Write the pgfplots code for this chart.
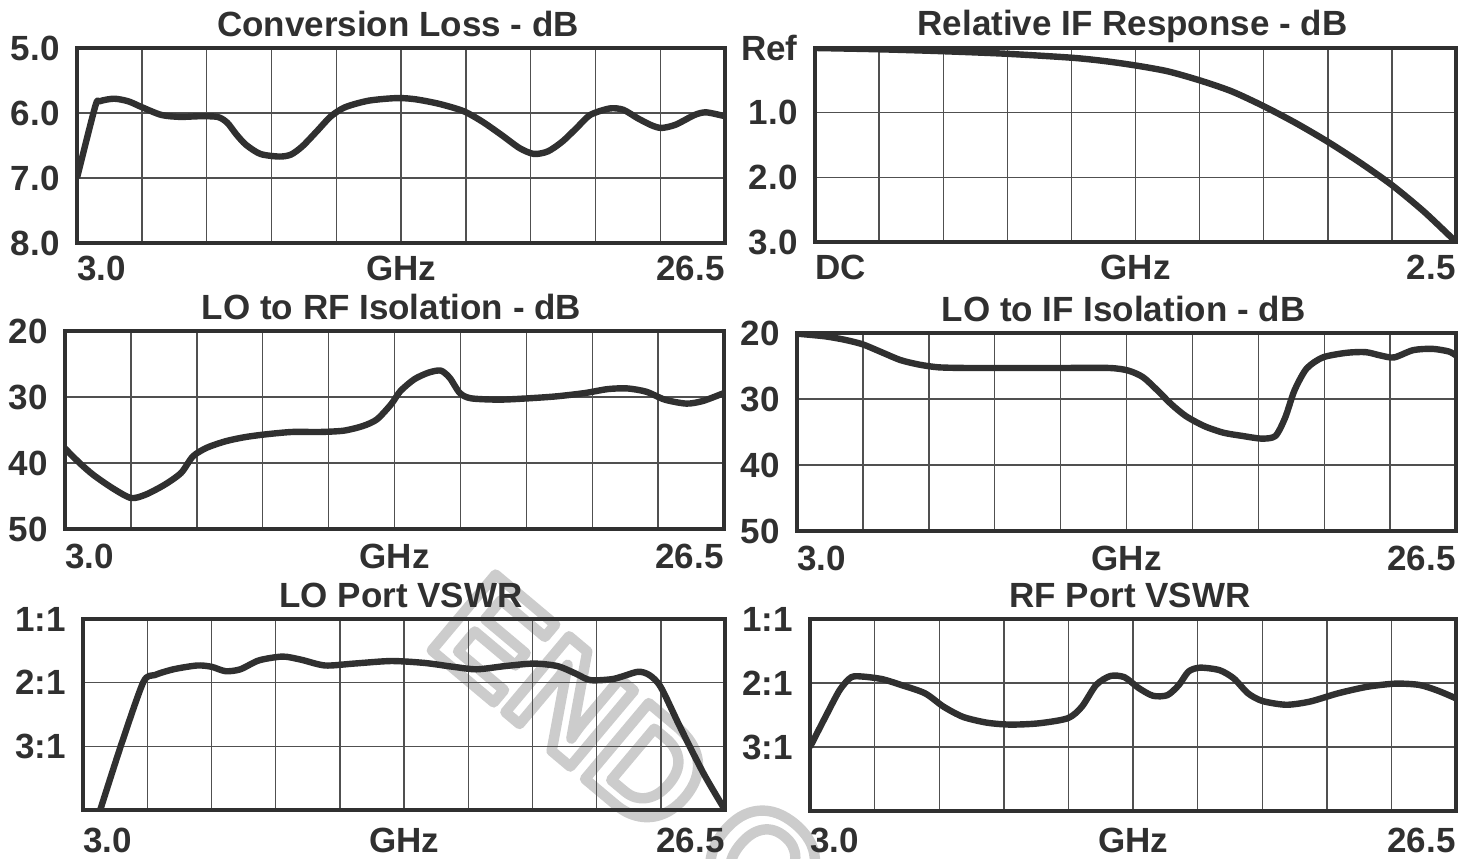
\documentclass[border=0pt]{standalone}
\usepackage{fontspec}
\setmainfont{Liberation Sans}
\usepackage{pgfplots}
\pgfplotsset{compat=1.18}
\definecolor{dk}{HTML}{303030}
\definecolor{gr}{HTML}{505050}
\definecolor{wm}{HTML}{C8C8C8}
\newcommand\lbl{\fontsize{17.5pt}{17.5pt}\selectfont\bfseries}
\newcommand\wmf{\fontsize{72pt}{72pt}\selectfont\bfseries}
\pgfplotsset{
 panel/.style={scale only axis, anchor=south west,
   axis line style={line width=1.7pt, draw=dk},
   grid=major, major grid style={line width=0.7pt, draw=gr},
   major tick length=0pt, xticklabels={}, y dir=reverse,
   yticklabel style={anchor=east, inner sep=0pt, xshift=-8.5pt, font=\lbl, text=dk},
   title style={font=\lbl, text=dk, at={(0.5,1)}, anchor=base, yshift=0pt, xshift=-1.5pt, inner sep=0pt},
   clip mode=individual},
 ghz/.style={xmin=3, xmax=26.5, xtick={3,5.35,7.7,10.05,12.4,14.75,17.1,19.45,21.8,24.15,26.5}},
 xlab/.style n args={4}{after end axis/.code={
   \node[anchor=base west, font=\lbl, text=dk, inner sep=0pt, yshift=-#4] at (axis description cs:0,0) {#1};
   \node[anchor=base, font=\lbl, text=dk, inner sep=0pt, yshift=-#4] at (axis description cs:0.5,0) {#2};
   \node[anchor=base east, font=\lbl, text=dk, inner sep=0pt, yshift=-#4] at (axis description cs:1,0) {#3};
 }},
 curve/.style={line width=3.2pt, draw=dk, smooth, tension=0.45, line join=round, mark=none},
}
\begin{document}
\begin{tikzpicture}
\useasboundingbox (0,0) rectangle (736pt,429pt);
\begin{scope}
\clip (0,0) rectangle (736pt,429pt);
\node[rotate=-40, anchor=west, inner sep=0pt, text=wm, font=\wmf] at (228pt,126pt)
  {\special{pdf:literal 1 Tr 0.80 G 5.2 w 1 j}END OF LIFE\special{pdf:literal 0 Tr}};
\end{scope}

% Panel 1: Conversion Loss
\begin{axis}[panel, ghz, at={(38.5pt,307.5pt)}, width=324pt, height=97.5pt,
  ymin=5, ymax=8, ytick={5,6,7,8}, yticklabels={5.0,6.0,7.0,8.0},
  title={Conversion Loss - dB}, xlab={3.0}{GHz}{26.5}{18.5pt}]
\addplot[curve] coordinates {
(3.00,7.00) (3.66,5.90) (3.82,5.82) (4.34,5.78) (4.86,5.82) (5.35,5.91)
(6.06,6.03) (6.74,6.06) (7.42,6.05) (8.10,6.06) (8.45,6.15) (8.78,6.33)
(9.13,6.49) (9.65,6.63) (10.33,6.67) (10.76,6.64) (11.18,6.51) (11.70,6.28)
(12.21,6.05) (12.73,5.91) (13.58,5.81) (14.61,5.77) (15.29,5.79) (16.14,5.86)
(17.01,5.97) (17.69,6.13) (18.37,6.33) (19.05,6.54) (19.57,6.63) (20.08,6.59)
(20.60,6.44) (21.12,6.23) (21.61,6.03) (22.32,5.93) (22.81,5.95) (23.33,6.08)
(23.84,6.19) (24.20,6.23) (24.71,6.18) (25.40,6.03) (25.82,5.99) (26.50,6.05)};
\end{axis}

% Panel 2: Relative IF Response
\begin{axis}[panel, at={(407.5pt,308pt)}, width=320.5pt, height=97pt,
  xmin=0, xmax=2.5, xtick={0,0.25,0.5,0.75,1,1.25,1.5,1.75,2,2.25,2.5},
  ymin=0, ymax=3, ytick={0,1,2,3}, yticklabels={Ref,1.0,2.0,3.0},
  title={Relative IF Response - dB}, xlab={DC}{GHz}{2.5}{18.5pt}]
\addplot[curve] coordinates {
(0.000,0.00) (0.250,0.02) (0.500,0.05) (0.750,0.09) (1.000,0.15) (1.125,0.20)
(1.250,0.27) (1.375,0.36) (1.500,0.50) (1.625,0.67) (1.750,0.90) (1.875,1.16)
(2.000,1.45) (2.125,1.77) (2.250,2.12) (2.375,2.53) (2.500,3.00)};
\end{axis}

% Panel 3: LO to RF Isolation
\begin{axis}[panel, ghz, at={(32.5pt,164.5pt)}, width=329.5pt, height=99pt,
  ymin=20, ymax=50, ytick={20,30,40,50}, yticklabels={20,30,40,50},
  title={LO to RF Isolation - dB}, xlab={3.0}{GHz}{26.5}{19.5pt}]
\addplot[curve] coordinates {
(3.00,37.8) (3.52,40.0) (4.01,41.8) (4.69,43.8) (5.35,45.3) (5.87,44.8)
(6.55,43.3) (7.14,41.5) (7.56,39.0) (8.05,37.7) (8.73,36.7) (9.39,36.1)
(10.07,35.7) (11.08,35.3) (12.09,35.3) (12.94,35.1) (13.62,34.4) (14.12,33.4)
(14.63,31.1) (14.96,29.1) (15.46,27.3) (15.97,26.3) (16.40,26.0) (16.72,27.1)
(17.08,29.4) (17.48,30.2) (18.49,30.4) (19.52,30.2) (20.53,29.9) (21.54,29.4)
(22.36,28.8) (23.05,28.7) (23.73,29.2) (24.39,30.4) (25.16,31.0) (25.75,30.6)
(26.50,29.4)};
\end{axis}

% Panel 4: LO to IF Isolation
\begin{axis}[panel, ghz, at={(398.5pt,163.5pt)}, width=329.5pt, height=99pt,
  ymin=20, ymax=50, ytick={20,30,40,50}, yticklabels={20,30,40,50},
  title={LO to IF Isolation - dB}, xlab={3.0}{GHz}{26.5}{19.5pt}]
\addplot[curve] coordinates {
(3.00,20.1) (3.99,20.5) (4.67,21.0) (5.33,21.7) (6.01,22.9) (6.69,24.1)
(7.37,24.8) (8.05,25.2) (9.06,25.3) (10.76,25.3) (12.45,25.3) (14.14,25.3)
(14.82,25.7) (15.34,26.7) (15.83,28.6) (16.35,30.8) (16.87,32.6) (17.52,34.1)
(18.20,35.1) (18.89,35.6) (19.57,36.0) (20.06,35.6) (20.41,32.8) (20.74,28.7)
(21.17,25.4) (21.75,23.7) (22.60,23.0) (23.28,22.9) (23.80,23.4) (24.29,23.7)
(24.97,22.6) (25.65,22.4) (26.24,22.8) (26.50,23.4)};
\end{axis}

% Panel 5: LO Port VSWR
\begin{axis}[panel, ghz, at={(41.5pt,24pt)}, width=321pt, height=95.5pt,
  ymin=1, ymax=4, ytick={1,2,3,4}, yticklabels={1:1,2:1,3:1,{}},
  title={LO Port VSWR}, xlab={3.0}{GHz}{26.5}{21pt}]
\addplot[curve] coordinates {
(3.63,4.00) (4.41,2.96) (5.21,1.99) (5.63,1.88) (6.31,1.79) (7.18,1.73)
(7.70,1.75) (8.22,1.82) (8.76,1.79) (9.44,1.65) (10.31,1.59) (10.99,1.64)
(11.86,1.73) (12.92,1.70) (14.28,1.66) (15.50,1.69) (16.54,1.75) (17.41,1.79)
(18.44,1.74) (19.50,1.70) (20.37,1.74) (21.05,1.86) (21.57,1.96) (22.43,1.94)
(23.30,1.83) (23.73,1.88) (24.15,2.07) (24.86,2.70) (25.72,3.43) (26.50,4.00)};
\end{axis}

% Panel 6: RF Port VSWR
\begin{axis}[panel, ghz, at={(405pt,23.5pt)}, width=323pt, height=96pt,
  ymin=1, ymax=4, ytick={1,2,3,4}, yticklabels={1:1,2:1,3:1,{}},
  title={RF Port VSWR}, xlab={3.0}{GHz}{26.5}{20.5pt}]
\addplot[curve] coordinates {
(3.00,3.00) (3.56,2.53) (4.08,2.11) (4.50,1.91) (4.93,1.90) (5.63,1.94)
(6.31,2.03) (7.18,2.16) (7.86,2.37) (8.57,2.53) (9.44,2.62) (10.29,2.65)
(11.32,2.63) (12.38,2.55) (12.89,2.37) (13.41,2.03) (13.93,1.89) (14.44,1.91)
(14.96,2.08) (15.48,2.20) (16.00,2.19) (16.42,2.03) (16.77,1.82) (17.19,1.76)
(17.90,1.80) (18.42,1.93) (18.93,2.16) (19.45,2.28) (20.32,2.34) (21.19,2.29)
(22.22,2.16) (23.26,2.06) (24.29,2.01) (25.16,2.03) (25.84,2.12) (26.50,2.24)};
\end{axis}
\end{tikzpicture}
\end{document}
